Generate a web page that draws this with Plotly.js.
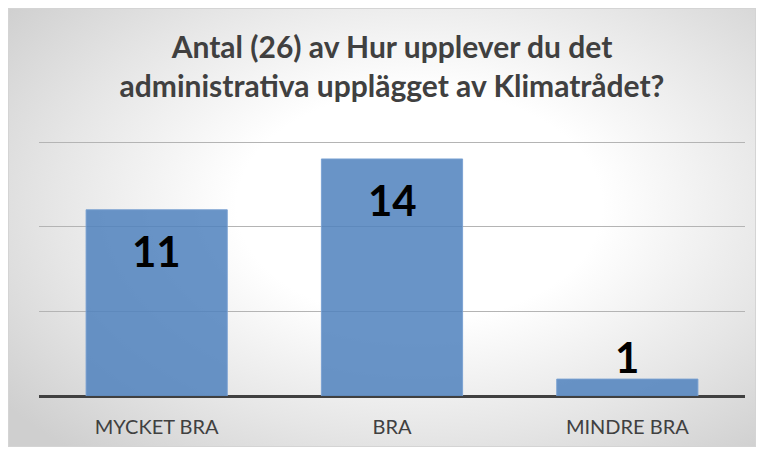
<!DOCTYPE html>
<html><head><meta charset="utf-8">
<script src="https://cdn.plot.ly/plotly-3.0.1.min.js"></script>
<style>
html,body{margin:0;padding:0;background:#fff;}
#wrap{position:relative;width:764px;height:452px;overflow:hidden;}
#bg{position:absolute;left:8px;top:8px;width:746px;height:437px;border:1px solid #d4d4d4;
background:radial-gradient(ellipse 70% 75% at 55% 45%, #ffffff 35%, #e6e6e6 70%, #cfcfcf 100%);}
#chart{position:absolute;left:0;top:0;width:764px;height:452px;}
</style></head><body>
<div id="wrap"><div id="bg"></div><div id="chart"></div></div>
<script>
const categories = ["MYCKET BRA", "BRA", "MINDRE BRA"];
const values = [11, 14, 1];
const titleText = "Antal (26) av Hur upplever du det<br>administrativa upplägget av Klimatrådet?";

const annotations = categories.map((c, i) => {
  const inside = values[i] >= 5;
  return {
    x: c, y: values[i], xref: 'x', yref: 'y',
    text: String(values[i]), showarrow: false,
    yanchor: inside ? 'top' : 'bottom',
    yshift: inside ? -14 : -5,
    font: {family: 'Lato, "Open Sans", sans-serif', size: 42, color: '#000', weight: 'bold'}
  };
});

Plotly.newPlot('chart', [{
  type: 'bar', x: categories, y: values,
  marker: {color: 'rgba(79,129,189,0.85)', line: {color: 'rgba(120,160,210,0.9)', width: 1}},
  hoverinfo: 'none'
}], {
  width: 764, height: 452,
  paper_bgcolor: 'rgba(0,0,0,0)', plot_bgcolor: 'rgba(0,0,0,0)',
  margin: {l: 39, r: 19, t: 141, b: 56},
  bargap: 0.4,
  showlegend: false,
  title: {text: titleText, xref: 'paper', x: 0.5, xanchor: 'center', yref: 'container', y: 1 - 58/452, yanchor: 'top',
    font: {family: 'Lato, "Open Sans", sans-serif', size: 30, color: '#404040', weight: 'bold'}},
  xaxis: {showgrid: false, showline: false, zeroline: false, ticks: '', ticklabelstandoff: 17,
    tickfont: {family: 'Lato, "Open Sans", sans-serif', size: 20, color: '#404040'}},
  yaxis: {range: [0, 15.06], dtick: 5, tick0: 0, showticklabels: false, ticks: '',
    showgrid: true, gridcolor: '#b4b4b4', gridwidth: 1,
    zeroline: true, zerolinecolor: '#404040', zerolinewidth: 3, showline: false},
  annotations: annotations
}, {displayModeBar: false, staticPlot: true});
</script></body></html>
